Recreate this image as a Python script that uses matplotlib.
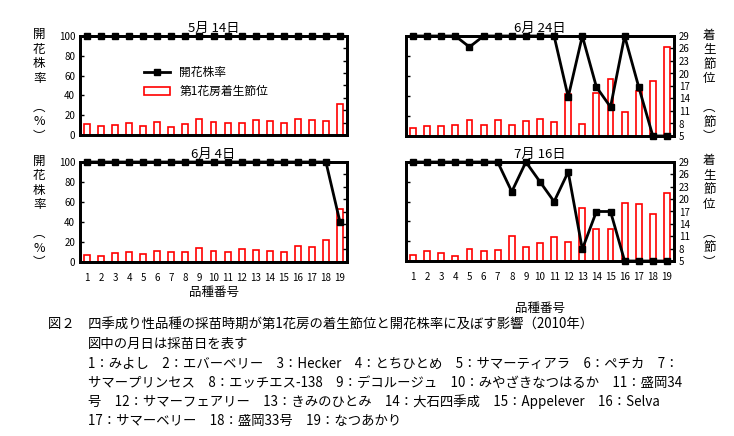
import matplotlib.pyplot as plt
import numpy as np

plt.rcParams['font.family'] = 'Noto Sans CJK JP'

varieties = np.arange(1, 20)

# flowering rate (%)
rate_0514 = [100] * 19
rate_0604 = [100] * 18 + [40]
rate_0624 = [100, 100, 100, 100, 89, 100, 100, 100, 100, 100, 100, 39, 100, 49, 29, 100, 49, 0, 0]
rate_0716 = [100, 100, 100, 100, 100, 100, 100, 70, 100, 80, 60, 90, 12, 50, 50, 0, 0, 0, 0]

# node of first truss
node_0514 = [7.6, 7.2, 7.4, 7.9, 7.2, 8.1, 6.9, 7.6, 8.8, 8.1, 7.9, 7.9, 8.6, 8.4, 7.9, 8.8, 8.6, 8.4, 12.4]
node_0604 = [6.7, 6.4, 7.2, 7.4, 6.9, 7.6, 7.4, 7.4, 8.4, 7.6, 7.4, 8.1, 7.9, 7.6, 7.4, 8.8, 8.6, 10.3, 17.7]
node_0624 = [7.0, 7.3, 7.5, 7.7, 8.8, 7.6, 8.9, 7.6, 8.5, 9.1, 8.4, 15.0, 7.8, 15.2, 18.6, 10.8, 15.8, 18.2, 26.4]
node_0716 = [6.5, 7.4, 6.9, 6.3, 7.8, 7.4, 7.6, 11.0, 8.4, 9.4, 10.8, 9.5, 17.8, 12.8, 12.8, 19.1, 18.7, 16.4, 21.5]

panels = [
    ('5月 14日', rate_0514, node_0514, 'left', 'top'),
    ('6月 4日', rate_0604, node_0604, 'left', 'bottom'),
    ('6月 24日', rate_0624, node_0624, 'right', 'top'),
    ('7月 16日', rate_0716, node_0716, 'right', 'bottom'),
]

W, H = 734, 436
fig = plt.figure(figsize=(W / 100, H / 100), dpi=100)

boxes = {('left', 'top'): (80, 36, 267, 99), ('left', 'bottom'): (80, 162, 267, 100),
         ('right', 'top'): (406, 36, 268, 100), ('right', 'bottom'): (406, 162, 268, 99)}

for title, rate, node, side, row in panels:
    x0, y0, w, h = boxes[(side, row)]
    ax = fig.add_axes([x0 / W, 1 - (y0 + h) / H, w / W, h / H])
    ax2 = ax.twinx()
    ax2.bar(varieties, np.array(node) - 5, bottom=5, width=0.42, facecolor='white',
            edgecolor='red', linewidth=1.2, zorder=1)
    ax2.set_ylim(5, 29)
    ax2.set_yticks(np.arange(5, 30, 3))
    ax.set_zorder(ax2.get_zorder() + 1)
    ax.patch.set_visible(False)
    line, = ax.plot(varieties, rate, color='black', lw=2, marker='s', ms=5, zorder=3, clip_on=False)
    ax.set_ylim(0, 100)
    ax.set_xlim(0.5, 19.5)
    ax.set_yticks(np.arange(0, 101, 20))
    ax.set_xticks(varieties)
    for a in (ax, ax2):
        for s in a.spines.values():
            s.set_linewidth(2)
        a.tick_params(labelsize=7, direction='in', length=3, width=1)
    ax.tick_params(axis='x', length=0, pad=8)
    ax.set_title(title, fontsize=9.5, pad=3)
    if side == 'left':
        ax2.set_yticklabels([])
        ax.set_ylabel('開\n花\n株\n率\n\n︵\n%\n︶', rotation=0, fontsize=9, labelpad=14,
                      va='center', linespacing=1.15)
    else:
        ax.set_yticklabels([])
        ax2.set_ylabel('着\n生\n節\n位\n\n︵\n節\n︶', rotation=0, fontsize=9, labelpad=14,
                       va='center', linespacing=1.15)
    if row == 'top':
        ax.set_xticklabels([])
    else:
        ax.set_xlabel('品種番号', fontsize=9, labelpad=2 if side == 'left' else 14)
    if side == 'left' and row == 'top':
        bar_proxy = plt.Rectangle((0, 0), 1, 1, facecolor='white', edgecolor='red', lw=1.2)
        ax.legend([line, bar_proxy], ['開花株率', '第1花房着生節位'], loc='upper left',
                  bbox_to_anchor=(0.2, 0.8), frameon=False, fontsize=8.5, handlelength=2.2)

caption = [
    (48, 325, '図２　四季成り性品種の採苗時期が第1花房の着生節位と開花株率に及ぼす影響（2010年）'),
    (88, 344, '図中の月日は採苗日を表す'),
    (88, 364, '1：みよし　2：エバーベリー　3：Hecker　4：とちひとめ　5：サマーティアラ　6：ペチカ　7：'),
    (88, 383, 'サマープリンセス　8：エッチエス-138　9：デコルージュ　10：みやざきなつはるか　11：盛岡34'),
    (88, 402, '号　12：サマーフェアリー　13：きみのひとみ　14：大石四季成　15：Appelever　16：Selva'),
    (88, 421, '17：サマーベリー　18：盛岡33号　19：なつあかり'),
]
for x, y, t in caption:
    fig.text(x / W, 1 - y / H, t, fontsize=9.6, va='center', ha='left')

fig.savefig('out.png', dpi=100)
